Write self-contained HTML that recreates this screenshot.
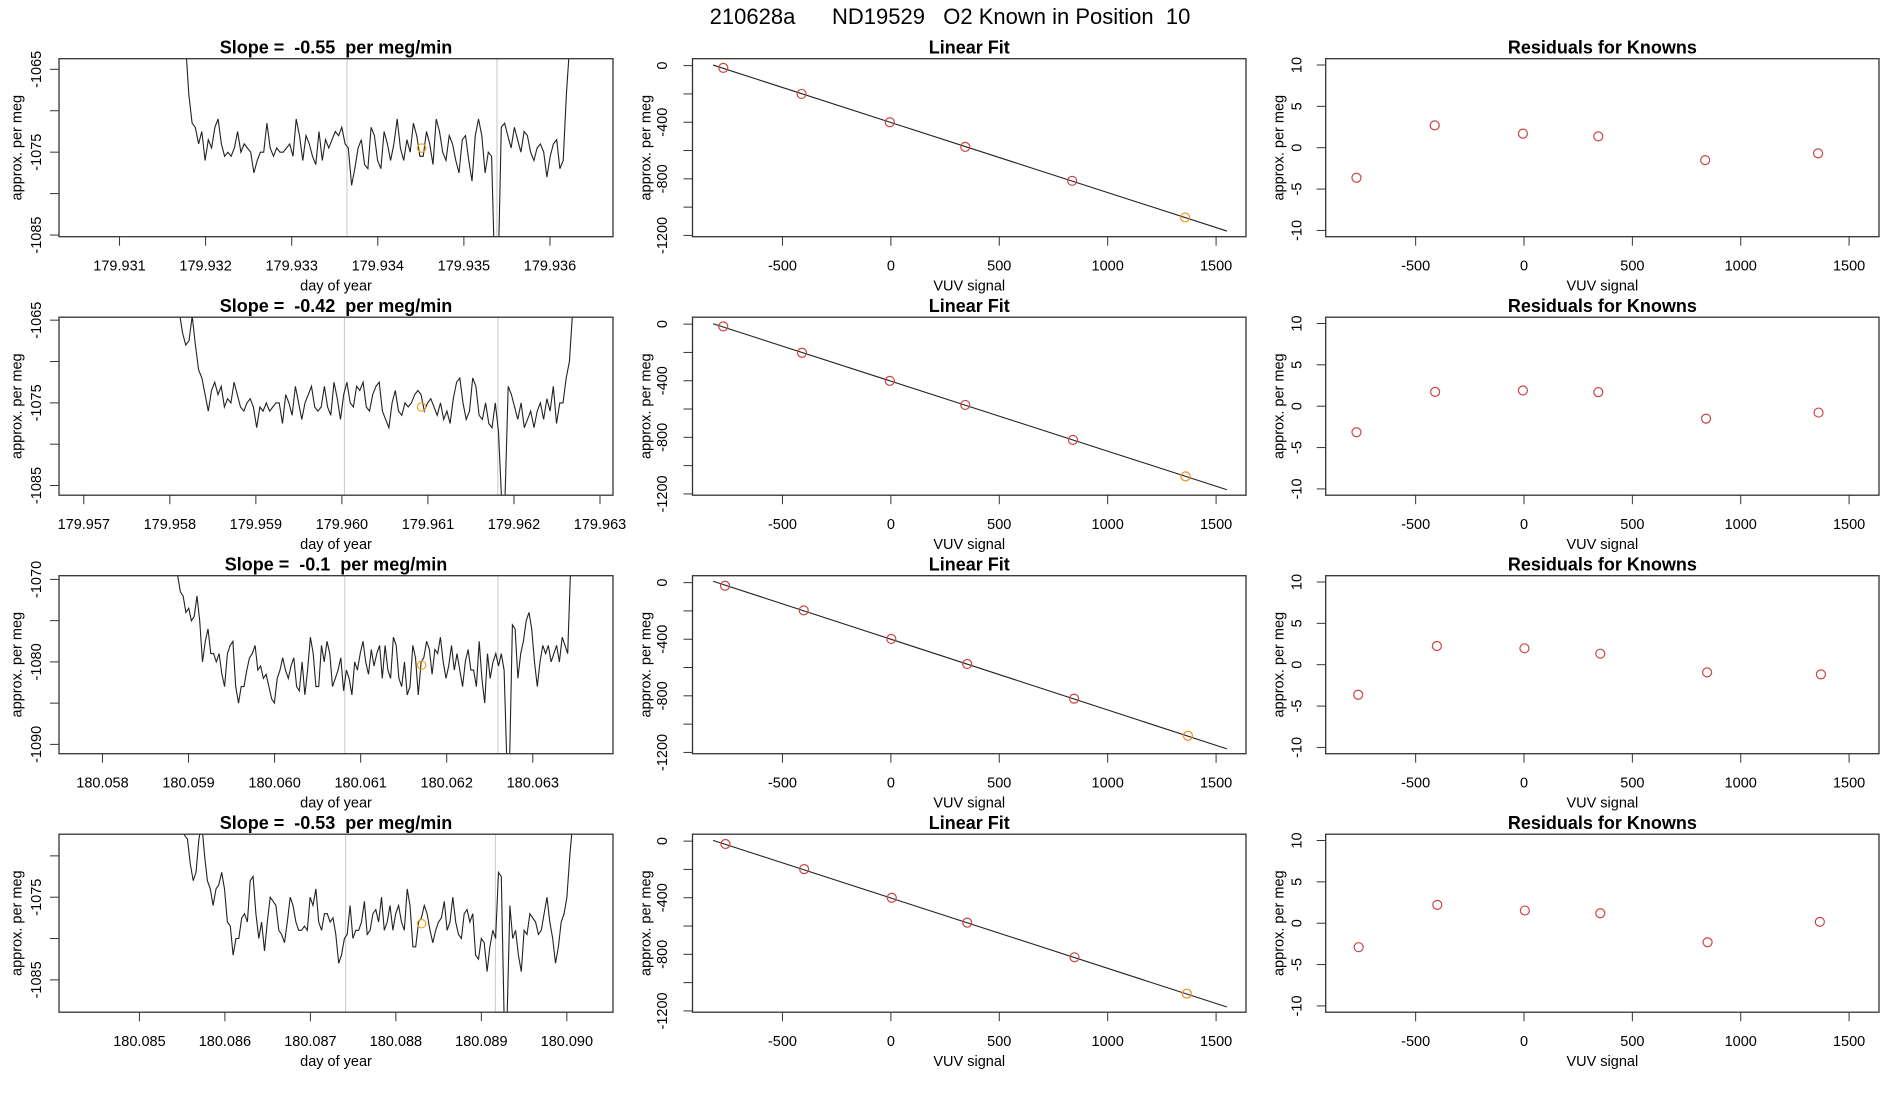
<!DOCTYPE html>
<html><head><meta charset="utf-8"><style>
html,body{margin:0;padding:0;background:#fff;}
svg{display:block;font-family:"Liberation Sans",sans-serif;}
text{white-space:pre;}
</style></head><body>
<svg id="c" width="1900" height="1100" xmlns="http://www.w3.org/2000/svg">
<text x="950" y="24" text-anchor="middle" font-size="22" style="white-space:pre">210628a      ND19529   O2 Known in Position  10</text>
</svg>
<script>
const slopeLabels = ["-0.55","-0.42","-0.1","-0.53"];
const tsStart = [179.931767,179.958110,180.058873,180.085495];
const tsEnd = [179.936229,179.962682,180.063438,180.090068];
const grayLines = [[179.933642,179.935384],[179.960029,179.961813],[180.060816,180.062595],[180.087412,180.089164]];
const orangeT = [179.934509,179.960926,180.061708,180.088301];
const orangeV = [-1074.5,-1075.5,-1080.4,-1078.2];
const ts1 = [-1062,-1068,-1071.5,-1072,-1074,-1072.5,-1076,-1073.5,-1074.5,-1072,-1071,-1074,-1075.5,-1075,-1075.5,-1074.5,-1072.5,-1075,-1074,-1074.5,-1075,-1077.5,-1076,-1075,-1075,-1071.5,-1074.5,-1075.5,-1074.5,-1075,-1075,-1074.5,-1074,-1075.5,-1071,-1073,-1076,-1073,-1074,-1075.5,-1076.5,-1072.5,-1076,-1073.5,-1074.5,-1073.5,-1072.5,-1073,-1072,-1074,-1074.5,-1079,-1077,-1074.5,-1073.5,-1076.5,-1077,-1072,-1073,-1076,-1077,-1072.5,-1074,-1076,-1074,-1071,-1074.5,-1076,-1073.5,-1075,-1071.5,-1073,-1075.5,-1075.5,-1072.5,-1074,-1076.5,-1071,-1072.5,-1075,-1076,-1073,-1074,-1076,-1077.5,-1073.5,-1073,-1076,-1078.5,-1073,-1071,-1073,-1077.5,-1075,-1075.5,-1090,-1090,-1072,-1071.5,-1073,-1074.5,-1072,-1073.5,-1075,-1072.5,-1073,-1075,-1076,-1074.5,-1074,-1075,-1078,-1075.5,-1074,-1073.5,-1077,-1076,-1068,-1062];
const ts2 = [-1064,-1066.5,-1068,-1067.5,-1064.5,-1068,-1071,-1072,-1074,-1076,-1073.5,-1072.5,-1074,-1073,-1075.5,-1074.5,-1075,-1072.5,-1074,-1075.5,-1076,-1075,-1074.5,-1075.5,-1078,-1075.5,-1076,-1075,-1076,-1075.5,-1075,-1075,-1077.5,-1074,-1075,-1076.5,-1073,-1075,-1077,-1075,-1074,-1073,-1075.5,-1076,-1075.5,-1073,-1075.5,-1076.5,-1072.5,-1074.5,-1077,-1074,-1072.5,-1075,-1075.5,-1073,-1073.5,-1072.5,-1075.5,-1076,-1074,-1073,-1072.5,-1076,-1077,-1078,-1075,-1073.5,-1076,-1076.5,-1075,-1075.5,-1075,-1074,-1073.5,-1074,-1076,-1075,-1074.5,-1075.5,-1076.5,-1075,-1077,-1076,-1077.5,-1074.5,-1072.5,-1072,-1075,-1077,-1076,-1072,-1073,-1076.5,-1077,-1075,-1077.5,-1078,-1075,-1078.5,-1087,-1087,-1073,-1074,-1075.5,-1077,-1075,-1078,-1077,-1076,-1078,-1076,-1075,-1077,-1074.5,-1076,-1073,-1077.5,-1075,-1075,-1072,-1070,-1064];
const ts3 = [-1069.5,-1071.5,-1072,-1074,-1073.5,-1075,-1074.5,-1072,-1075,-1080,-1077.5,-1076,-1079,-1079,-1080,-1079,-1081.5,-1083,-1079,-1078,-1077.5,-1083,-1085,-1083,-1083,-1081,-1079.5,-1079,-1078,-1081,-1080.5,-1082,-1081.5,-1083,-1084.5,-1085,-1082,-1081,-1079.5,-1081,-1082,-1080.5,-1079.5,-1083,-1083.5,-1080,-1084,-1081,-1077,-1079,-1083,-1083,-1078,-1080,-1077.5,-1079,-1083,-1082,-1081,-1079.5,-1083.5,-1081,-1082,-1084,-1080,-1081,-1079,-1077.5,-1080,-1081.5,-1078.5,-1080.5,-1079,-1078,-1082,-1078,-1081,-1082,-1077,-1078,-1082,-1083,-1080,-1084,-1083,-1078,-1079.5,-1084,-1080,-1079.5,-1077.5,-1078.5,-1081.5,-1078.5,-1079,-1077,-1080,-1082,-1080.5,-1078,-1081,-1079,-1081,-1083,-1080,-1078.5,-1081,-1081,-1083,-1077.5,-1082,-1085,-1079,-1082,-1080,-1079,-1080.5,-1079,-1081,-1092,-1092,-1075.5,-1076,-1082,-1079,-1077.5,-1075,-1074,-1076,-1080,-1083,-1080,-1078,-1079,-1078,-1080,-1079,-1078,-1080,-1077,-1078,-1079,-1069];
const ts4 = [-1066,-1067.5,-1068,-1071,-1073,-1072,-1068,-1066,-1070,-1073,-1074,-1076,-1074,-1073.5,-1072,-1074,-1078,-1078.5,-1082,-1080,-1080,-1077.5,-1077,-1078,-1073,-1072.5,-1077,-1080,-1078,-1081.5,-1078,-1075,-1075.5,-1076,-1079,-1079.5,-1080.5,-1078,-1075,-1076,-1078,-1079,-1079,-1078.5,-1079,-1075,-1076,-1074,-1078,-1079,-1077,-1077,-1078,-1077.5,-1079.5,-1083,-1082,-1080,-1079.5,-1076,-1080,-1079,-1079,-1078,-1075.5,-1079.5,-1079,-1077,-1076.5,-1078,-1075,-1079,-1078,-1076,-1079,-1077,-1076,-1078,-1079,-1074,-1076,-1081,-1081,-1078,-1077.5,-1076,-1077,-1079,-1080.5,-1079,-1078,-1077.5,-1075.5,-1079,-1078,-1075,-1078,-1079.5,-1080,-1077,-1076.5,-1078,-1077,-1082,-1082.5,-1080,-1080.5,-1084,-1081,-1079,-1080,-1072,-1072.5,-1090,-1090,-1076,-1080,-1079,-1082,-1084,-1079,-1079.5,-1077,-1077.5,-1078,-1079.5,-1079,-1077,-1075,-1078,-1080,-1083,-1081,-1078,-1077,-1075,-1070,-1066];
const tsValues = [ts1,ts2,ts3,ts4];
const xLim1 = [[179.930297,179.936732],[179.956712,179.963151],[180.057495,180.063932],[180.084059,180.090540]];
const yLim1 = [[-1085.2,-1063.72],[-1086.17,-1064.64],[-1091.13,-1069.55],[-1088.91,-1067.38]];
const xTicks1 = [[179.931,179.932,179.933,179.934,179.935,179.936],[179.957,179.958,179.959,179.960,179.961,179.962,179.963],[180.058,180.059,180.060,180.061,180.062,180.063],[180.085,180.086,180.087,180.088,180.089,180.090]];
const yTicks1 = [[-1065,-1070,-1075,-1080,-1085],[-1065,-1070,-1075,-1080,-1085],[-1070,-1075,-1080,-1085,-1090],[-1070,-1075,-1080,-1085]];
const yLabels1 = [[-1065,-1075,-1085],[-1065,-1075,-1085],[-1070,-1080,-1090],[-1075,-1085]];
const vuvX = [[-773,-412,-5,343,836,1357],[-773,-410,-5,343,840,1359],[-765,-402,2,352,845,1370],[-763,-400,4,352,847,1365]];
const fitY = [[-16,-200,-400,-574,-814,-1073],[-16,-202,-401,-571,-818,-1076],[-22,-196,-398,-575,-820,-1082],[-20,-198,-400,-576,-821,-1078]];
const fitIntercept = [-402,-403,-400,-402];
const fitSlope = [-0.495,-0.495,-0.5,-0.497];
const resid = [[-3.63,2.7,1.7,1.37,-1.5,-0.69],[-3.15,1.73,1.9,1.7,-1.5,-0.77],[-3.63,2.26,1.98,1.33,-0.93,-1.17],[-2.9,2.22,1.53,1.2,-2.3,0.16]];
const vuvTicks = [-500,0,500,1000,1500];
const fitYTicks = [0,-400,-800,-1200];
const fitYMinor = [0,-200,-400,-600,-800,-1000,-1200];
const residTicks = [-10,-5,0,5,10];

const NS="http://www.w3.org/2000/svg";
const svg=document.getElementById('c');
function mk(tag,attrs,parent){const e=document.createElementNS(NS,tag);for(const k in attrs)e.setAttribute(k,attrs[k]);(parent||svg).appendChild(e);return e;}
function lin(d0,d1,r0,r1){return v=>r0+(v-d0)*(r1-r0)/(d1-d0);}
const cols=[[59,613],[692.5,1246],[1325.7,1879]];
const TK=9;

function frame(g,x0,x1,top,bot,title,ytitle,xtitle,tickLX,titleX){
  const t=mk('text',{x:(x0+x1)/2,y:top-5,'text-anchor':'middle','font-size':18,'font-weight':'bold'},g);
  t.textContent=title;
  
  
  const yt=mk('text',{x:titleX,y:(top+bot)/2,'text-anchor':'middle','font-size':14.5,transform:`rotate(-90 ${titleX} ${(top+bot)/2})`,'dominant-baseline':'middle'},g);
  yt.textContent=ytitle;
  
  
  const xt=mk('text',{x:(x0+x1)/2,y:bot+54,'text-anchor':'middle','font-size':14.5},g);
  xt.textContent=xtitle;
  
  
}
function box(g,x0,x1,top,bot){
  const b=mk('rect',{x:x0,y:top,width:x1-x0,height:bot-top,fill:'none',stroke:'#333','stroke-width':1.3},g);
  
  
}
function xaxis(g,ticks,sx,bot,fmt){
  ticks.forEach(v=>{const x=sx(v);
    mk('line',{x1:x,x2:x,y1:bot,y2:bot+TK,stroke:'#333'},g);
    const t=mk('text',{x:x,y:bot+34,'text-anchor':'middle','font-size':14.5},g);
    t.textContent=fmt(v);
    
    });
}
function yaxis(g,ticks,labels,sy,x0,lx){
  ticks.forEach(v=>{const y=sy(v);mk('line',{x1:x0-TK,x2:x0,y1:y,y2:y,stroke:'#333'},g);});
  labels.forEach(v=>{const y=sy(v);
    const t=mk('text',{x:lx,y:y,'text-anchor':'middle','font-size':14.5,'dominant-baseline':'middle',transform:`rotate(-90 ${lx} ${y})`},g);
    t.textContent=String(v);
    
    });
}

for(let r=0;r<4;r++){
  const top=58.7+258.5*r, bot=top+178;
  {
    const [x0,x1]=cols[0];
    const g=mk('g',{});
    
    
    const sx=lin(xLim1[r][0],xLim1[r][1],x0,x1), sy=lin(yLim1[r][0],yLim1[r][1],bot,top);
    const cp=mk('clipPath',{id:'clip'+r},g);mk('rect',{x:x0,y:top,width:x1-x0,height:bot-top},cp);
    grayLines[r].forEach(t=>{const l=mk('line',{x1:sx(t),x2:sx(t),y1:top,y2:bot,stroke:'#c8c8c8'},g);
      
      });
    const vals=tsValues[r],n=vals.length;
    const pts=vals.map((v,i)=>{const t=tsStart[r]+(tsEnd[r]-tsStart[r])*i/(n-1);return sx(t).toFixed(1)+','+sy(v).toFixed(1);}).join(' ');
    const pl=mk('polyline',{points:pts,fill:'none',stroke:'#222','stroke-width':1.1,'clip-path':`url(#clip${r})`},g);
    
    
    const oc=mk('circle',{cx:sx(orangeT[r]),cy:sy(orangeV[r]),r:4.2,fill:'none',stroke:'#f5a623','stroke-width':1.2},g);
    
    
    box(g,x0,x1,top,bot);
    xaxis(g,xTicks1[r],sx,bot,v=>v.toFixed(3));
    yaxis(g,yTicks1[r],yLabels1[r],sy,x0,37);
    frame(g,x0,x1,top,bot,'Slope =  '+slopeLabels[r]+'  per meg/min','approx. per meg','day of year',37,17.5);
  }
  {
    const [x0,x1]=cols[1];
    const g=mk('g',{});
    
    
    const sx=lin(-915,1638,x0,x1), sy=lin(-1209,49,bot,top);
    const xa=-820,xb=1550;
    const fl=mk('line',{x1:sx(xa),y1:sy(fitIntercept[r]+fitSlope[r]*xa),x2:sx(xb),y2:sy(fitIntercept[r]+fitSlope[r]*xb),stroke:'#222','stroke-width':1.1},g);
    
    
    vuvX[r].forEach((v,i)=>{const c=mk('circle',{cx:sx(v),cy:sy(fitY[r][i]),r:4.5,fill:'none',stroke:i==5?'#f0901e':'#cc4444','stroke-width':1.2},g);
      
      });
    box(g,x0,x1,top,bot);
    xaxis(g,vuvTicks,sx,bot,v=>String(v));
    yaxis(g,fitYMinor,fitYTicks,sy,x0,663);
    frame(g,x0,x1,top,bot,'Linear Fit','approx. per meg','VUV signal',663,646.6);
  }
  {
    const [x0,x1]=cols[2];
    const g=mk('g',{});
    
    
    const sx=lin(-915,1638,x0,x1), sy=lin(-10.76,10.76,bot,top);
    vuvX[r].forEach((v,i)=>{const c=mk('circle',{cx:sx(v),cy:sy(resid[r][i]),r:4.5,fill:'none',stroke:'#cc4444','stroke-width':1.2},g);
      
      });
    box(g,x0,x1,top,bot);
    xaxis(g,vuvTicks,sx,bot,v=>String(v));
    yaxis(g,residTicks,residTicks,sy,x0,1297.5);
    frame(g,x0,x1,top,bot,'Residuals for Knowns','approx. per meg','VUV signal',1297.5,1279.6);
  }
}
</script>
</body></html>
